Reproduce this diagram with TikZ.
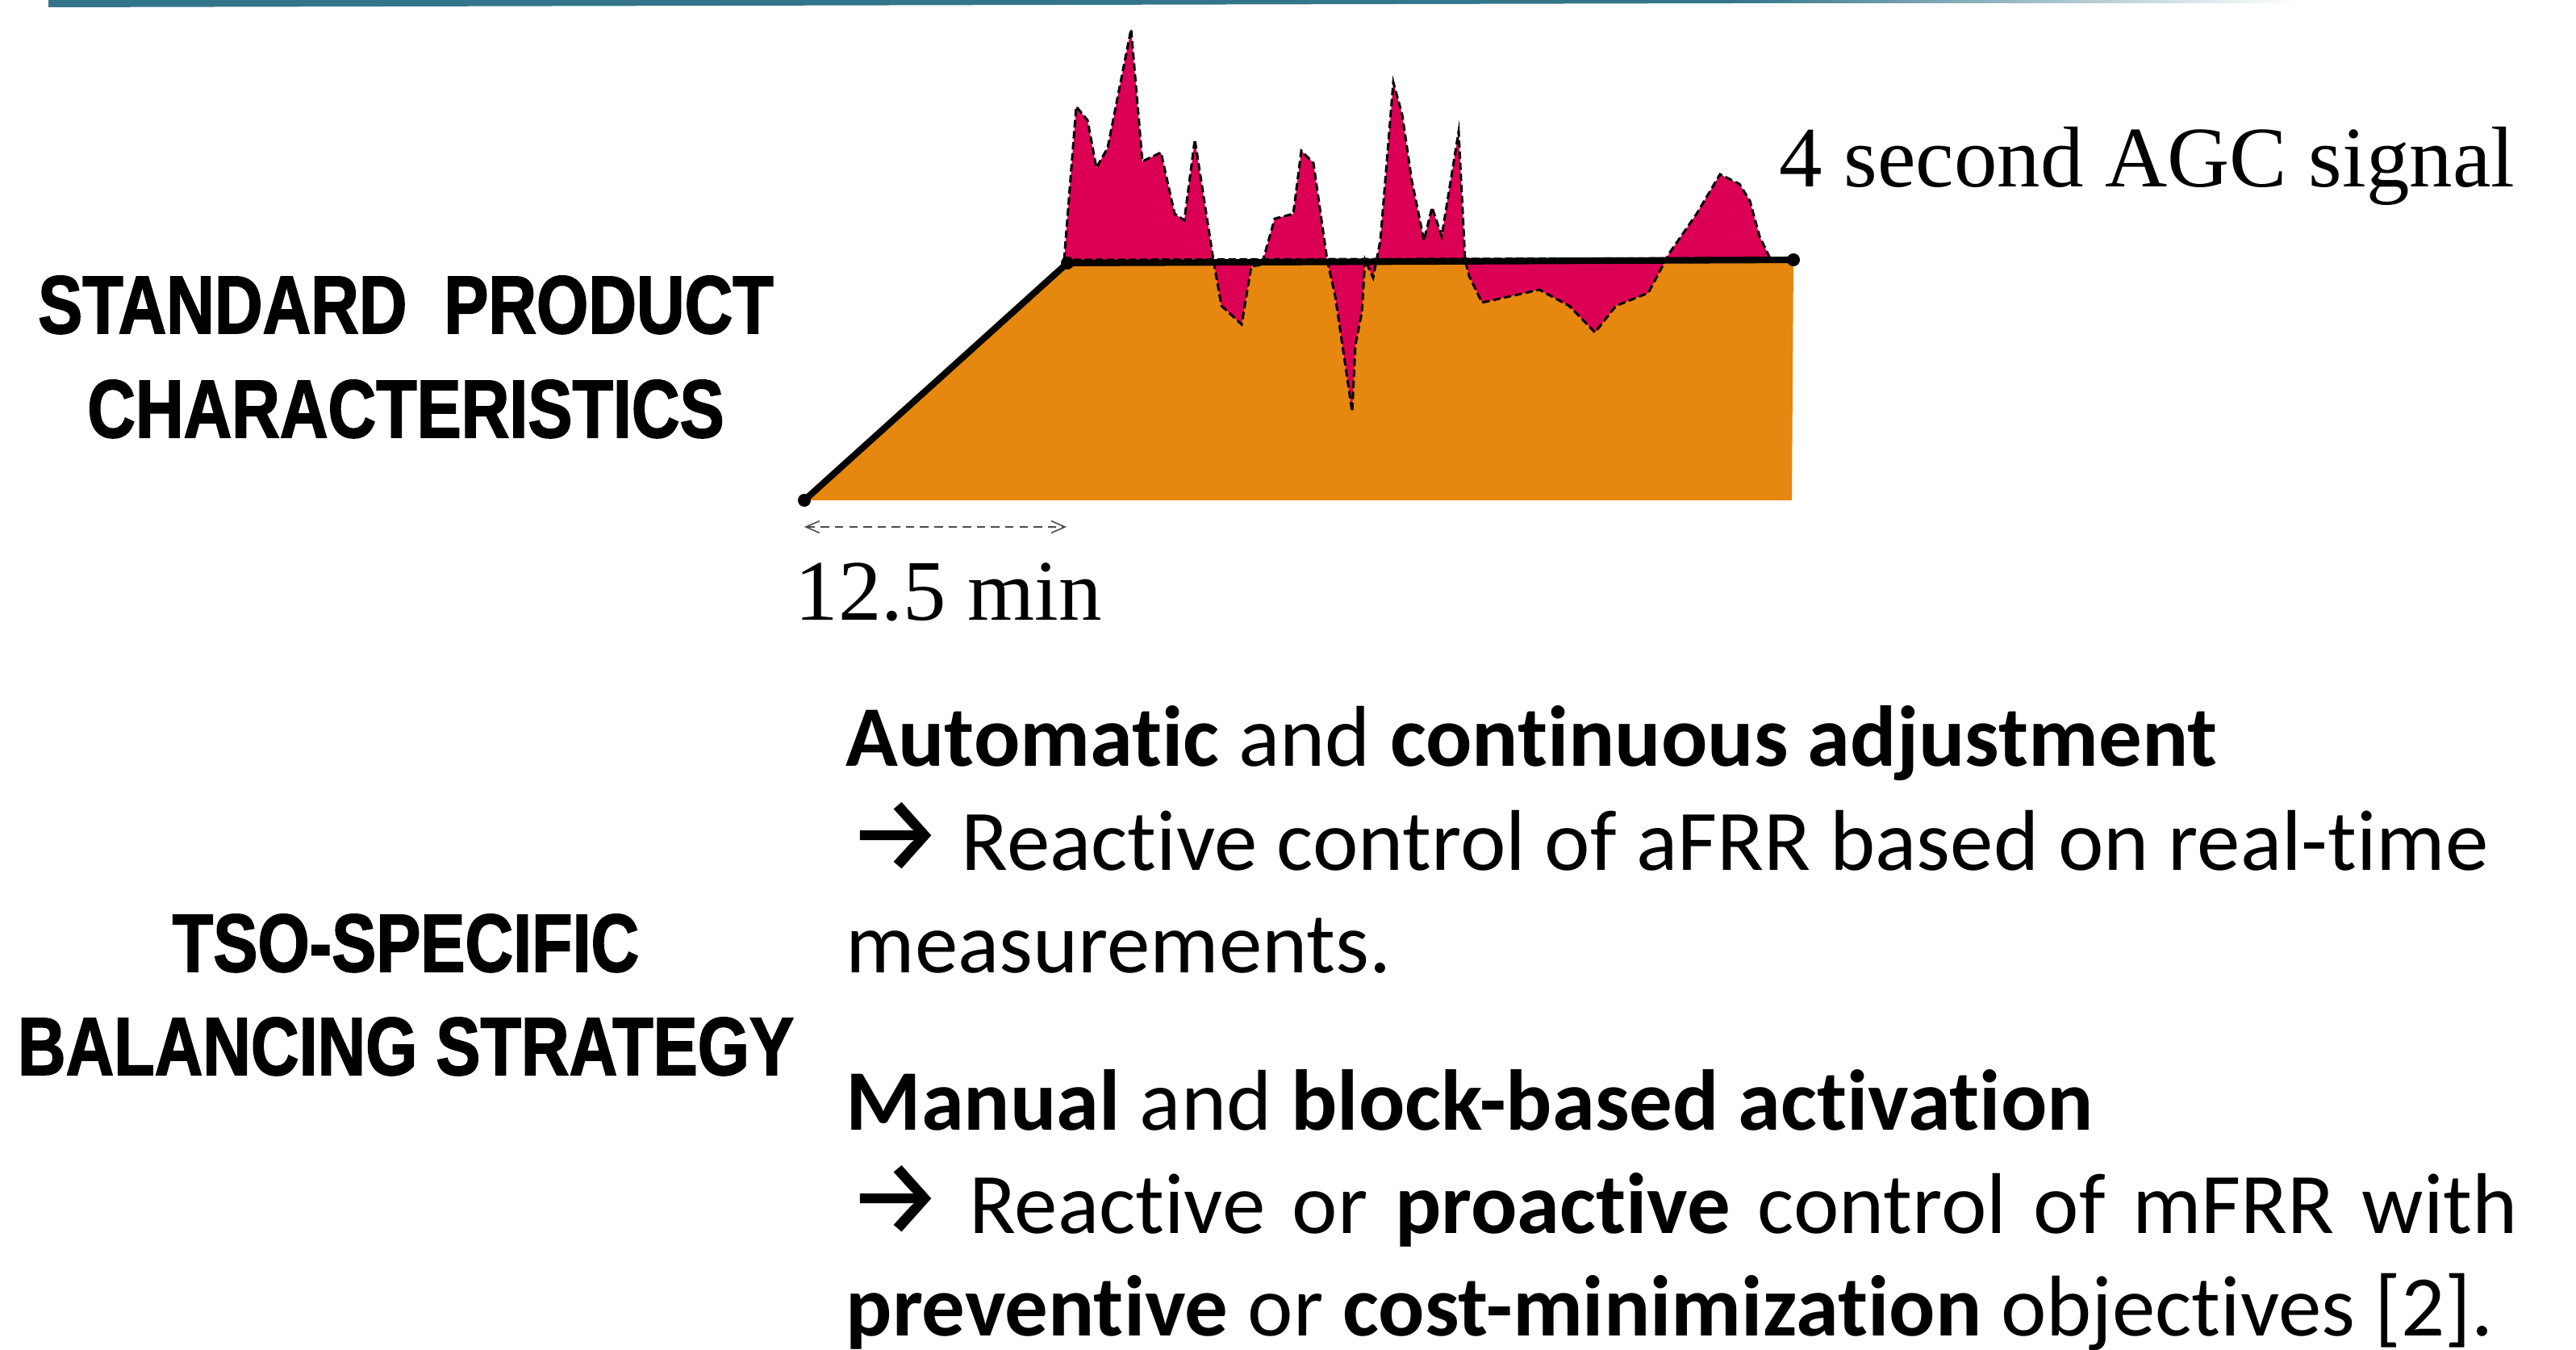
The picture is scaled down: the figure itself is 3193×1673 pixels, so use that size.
\documentclass[tikz,border=0pt]{standalone}
\usepackage{fontspec}
\setmainfont[Ligatures=CommonOff]{Carlito}
\newfontfamily\titlefont[FakeStretch=0.81, BoldFeatures={FakeBold=1.6}]{Liberation Sans}
\newfontfamily\labelfont{Liberation Serif}
\newfontfamily\arrowfont[FakeBold=1.2]{Fira Sans}
\usetikzlibrary{arrows.meta}
\definecolor{barteal}{RGB}{51,117,138}
\definecolor{rampfill}{RGB}{230,135,16}
\definecolor{agcfill}{RGB}{220,0,85}

\begin{document}
\begin{tikzpicture}[x=0.01cm, y=-0.01cm]
        \tikzstyle{heading}=[font=\titlefont\bfseries\fontsize{29}{34}\selectfont, inner sep=0pt, anchor=base]
        \tikzstyle{bodyline}=[font=\fontsize{30.4}{36}\selectfont, inner sep=0pt, anchor=base west]
        \tikzstyle{axislabel}=[font=\labelfont\fontsize{30.4}{36}\selectfont, inner sep=0pt, anchor=base west]
        \tikzstyle{dot}=[circle, fill=black, inner sep=0pt, minimum size=0.16cm]
        \tikzstyle{profile}=[line width=2.3pt, line cap=round, line join=round]

        \useasboundingbox (0,0) rectangle (3193,1673);

        \fill[barteal] (60,0) -- (2150,0) -- (2150,4) -- (60,9) -- cycle;
        \shade[left color=barteal, right color=white] (2150,0) rectangle (2850,4);

        \coordinate (rampstart) at (997,620);
        \coordinate (rampend) at (1323,326);
        \coordinate (platend) at (2223,322);
        \coordinate (platbase) at (2221,620);

        \fill[rampfill] (rampstart) -- (rampend) -- (platend) -- (platbase) -- cycle;

        \path[fill=agcfill, draw=black, line width=0.85pt, dash pattern=on 2.6pt off 1.3pt]
            (1319,322) -- (1334,132) -- (1348,149) -- (1359,208) -- (1373,183) -- (1402,36)
            -- (1416,200) -- (1439,189) -- (1456,265) -- (1468,273) -- (1481,173) -- (1504,322)
            -- (1514,379) -- (1539,402) -- (1551,330) -- (1564,328) -- (1580,271) -- (1603,265)
            -- (1613,187) -- (1628,202) -- (1645,322) -- (1655,367) -- (1676,510) -- (1680,428)
            -- (1688,387) -- (1692,322) -- (1702,344) -- (1711,298) -- (1727,102) -- (1738,142)
            -- (1750,224) -- (1765,298) -- (1775,257) -- (1787,293) -- (1808,163) -- (1816,322)
            -- (1821,342) -- (1837,375) -- (1908,359) -- (1945,379) -- (1977,412) -- (2003,379)
            -- (2043,363) -- (2069,314) -- (2103,265) -- (2132,216) -- (2156,228) -- (2169,249)
            -- (2181,293) -- (2194,320) -- cycle;

        \draw[profile] (rampstart) -- (rampend) -- (platend);
        \node[dot] (startdot) at (rampstart) {};
        \node[dot] (enddot) at (rampend) {};
        \node[dot] (platdot) at (platend) {};

        \coordinate (dimleft) at (997,653);
        \coordinate (dimright) at (1322,653);
        \draw[black!70, line width=0.45pt, densely dashed, {Straight Barb[length=4.8pt, width=4.2pt]}-{Straight Barb[length=4.8pt, width=4.2pt]}] (dimleft) -- (dimright);

        \node[axislabel] (agclabel) at (2205,232) {4 second AGC signal};
        \node[axislabel] (durlabel) at (985,768) {12.5 min};

        \node[heading] (stdtitle) at (503,413) {STANDARD\ \ PRODUCT};
        \node[heading] (stdtitle2) at (503,542) {CHARACTERISTICS};
        \node[heading] (tsotitle) at (503,1204) {TSO-SPECIFIC};
        \node[heading] (tsotitle2) at (503,1332) {BALANCING STRATEGY};

        \node[bodyline] (autoline) at (1048,949) {\textbf{Automatic} and \textbf{continuous adjustment}};
        \node[bodyline] (afrrline) at (1050,1078) {{\arrowfont\fontsize{37}{40}\selectfont →}\ Reactive control of aFRR based on real-time};
        \node[bodyline] (afrrend) at (1048,1205) {measurements.};
        \node[bodyline] (manualline) at (1048,1400) {\textbf{Manual} and \textbf{block-based activation}};
        \node[bodyline] (mfrrline) at (1050,1528) {\makebox[20.69cm][s]{{\arrowfont\fontsize{37}{40}\selectfont →}\ Reactive or \textbf{proactive} control of mFRR with}};
        \node[bodyline] (mfrrend) at (1048,1655) {\textbf{preventive} or \textbf{cost-minimization} objectives [2].};
    \end{tikzpicture}
\end{document}
